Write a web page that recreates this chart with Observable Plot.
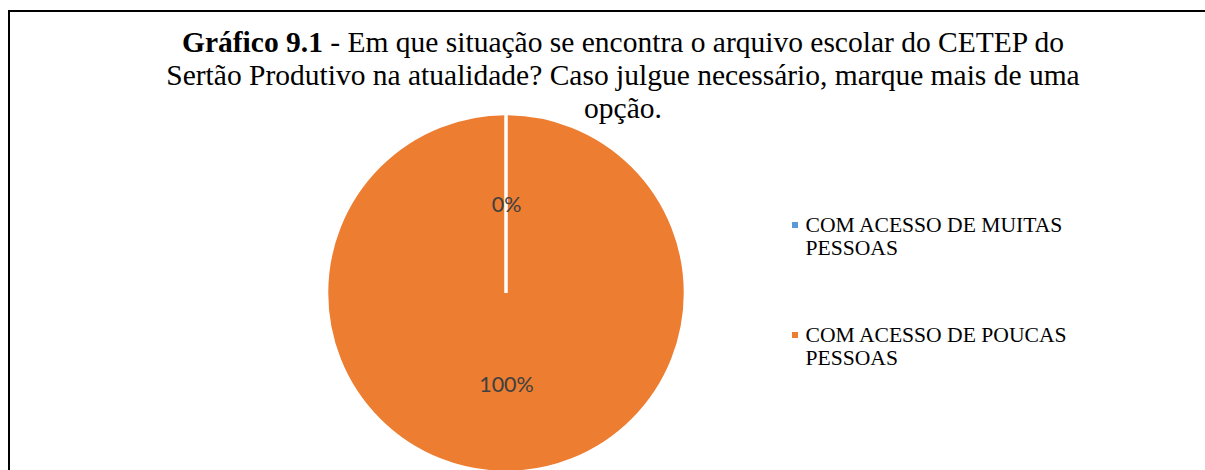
<!DOCTYPE html>
<html lang="pt">
<head>
<meta charset="utf-8">
<script src="https://cdn.jsdelivr.net/npm/d3@7"></script>
<script src="https://cdn.jsdelivr.net/npm/@observablehq/plot@0.6"></script>
<style>
  html, body { margin:0; padding:0; background:#fff; }
  body { position:relative; width:1205px; height:470px; overflow:hidden; }
  #chart { position:absolute; left:0; top:0; }
  #frame { position:absolute; left:8px; top:10px; width:1300px; height:600px; border:2px solid #000; box-sizing:border-box; pointer-events:none; }
  #title { position:absolute; left:0; top:25.5px; width:1246px; text-align:center; font-family:"Liberation Serif","Times New Roman",serif; font-size:29.5px; line-height:33px; color:#000; white-space:nowrap; }
  #title b { font-weight:bold; }
  .legend-item { position:absolute; left:792px; font-family:"Liberation Serif","Times New Roman",serif; font-size:21.6px; line-height:23px; color:#000; }
  .swatch { position:absolute; left:0; top:8px; width:6px; height:6px; }
  .legend-text { position:absolute; left:13.5px; top:0; white-space:nowrap; }
</style>
</head>
<body>
<div id="chart"></div>
<div id="title"></div>
<div id="legend"></div>
<div id="frame"></div>
<script>
// ---- data ----
const categories = ["COM ACESSO DE MUITAS PESSOAS", "COM ACESSO DE POUCAS PESSOAS"];
const legendLines = [["COM ACESSO DE MUITAS", "PESSOAS"], ["COM ACESSO DE POUCAS", "PESSOAS"]];
const values = [0, 100];
const valueLabels = ["0%", "100%"];
const colors = ["#5B9BD5", "#ED7D31"];
const titleBold = "Gráfico 9.1";
const titleLines = [
  " - Em que situação se encontra o arquivo escolar do CETEP do",
  "Sertão Produtivo na atualidade? Caso julgue necessário, marque mais de uma",
  "opção."
];

// ---- title ----
const titleEl = document.getElementById("title");
{
  const b = document.createElement("b");
  b.textContent = titleBold;
  titleEl.appendChild(b);
  titleEl.appendChild(document.createTextNode(titleLines[0]));
  for (let i = 1; i < titleLines.length; i++) {
    titleEl.appendChild(document.createElement("br"));
    titleEl.appendChild(document.createTextNode(titleLines[i]));
  }
}

// ---- chart ----
const rows = categories.map((c, i) => ({category: c, value: values[i], label: valueLabels[i]}));
const color = Plot.scale({color: {type: "ordinal", domain: categories, range: colors}});
const arcs = d3.pie().sort(null).value(d => d.value)(rows);
const labelRadius = 0.5;
const labelRows = arcs.map(a => {
  const mid = (a.startAngle + a.endAngle) / 2;
  return {label: a.data.label, x: labelRadius * Math.sin(mid), y: labelRadius * Math.cos(mid)};
});

function pieSlices(index, scales) {
  const cx = scales.x(0), cy = scales.y(0);
  const r = Math.abs(scales.x(1) - scales.x(0));
  const arc = d3.arc().innerRadius(0).outerRadius(r);
  const g = d3.create("svg:g").attr("transform", `translate(${cx},${cy})`);
  const order = arcs.slice().sort((a, b) => (b.endAngle - b.startAngle) - (a.endAngle - a.startAngle));
  g.selectAll("path").data(order).join("path")
    .attr("d", arc)
    .attr("fill", d => color.apply(d.data.category))
    .attr("stroke", "#fff")
    .attr("stroke-width", 3.5)
    .attr("stroke-linejoin", "miter");
  return g.node();
}

const chart = Plot.plot({
  width: 1205,
  height: 470,
  margin: 0,
  style: {background: "transparent", overflow: "visible"},
  x: {domain: [-1, 1], range: [326.5, 685.5], axis: null},
  y: {domain: [-1, 1], range: [472.5, 113.5], axis: null},
  marks: [
    pieSlices,
    Plot.text(labelRows, {x: "x", y: "y", text: "label", fill: "#404040", fontSize: 21.5, fontFamily: "Lato", dy: 1.5})
  ]
});
document.getElementById("chart").appendChild(chart);

// ---- legend ----
const legendTops = [214, 323.5];
const legendEl = document.getElementById("legend");
categories.forEach((c, i) => {
  const item = document.createElement("div");
  item.className = "legend-item";
  item.style.top = legendTops[i] + "px";
  const sw = document.createElement("div");
  sw.className = "swatch";
  sw.style.background = color.apply(c);
  const txt = document.createElement("div");
  txt.className = "legend-text";
  txt.innerHTML = legendLines[i].map(s => s.replace(/&/g, "&amp;")).join("<br>");
  item.appendChild(sw);
  item.appendChild(txt);
  legendEl.appendChild(item);
});
</script>
</body>
</html>
